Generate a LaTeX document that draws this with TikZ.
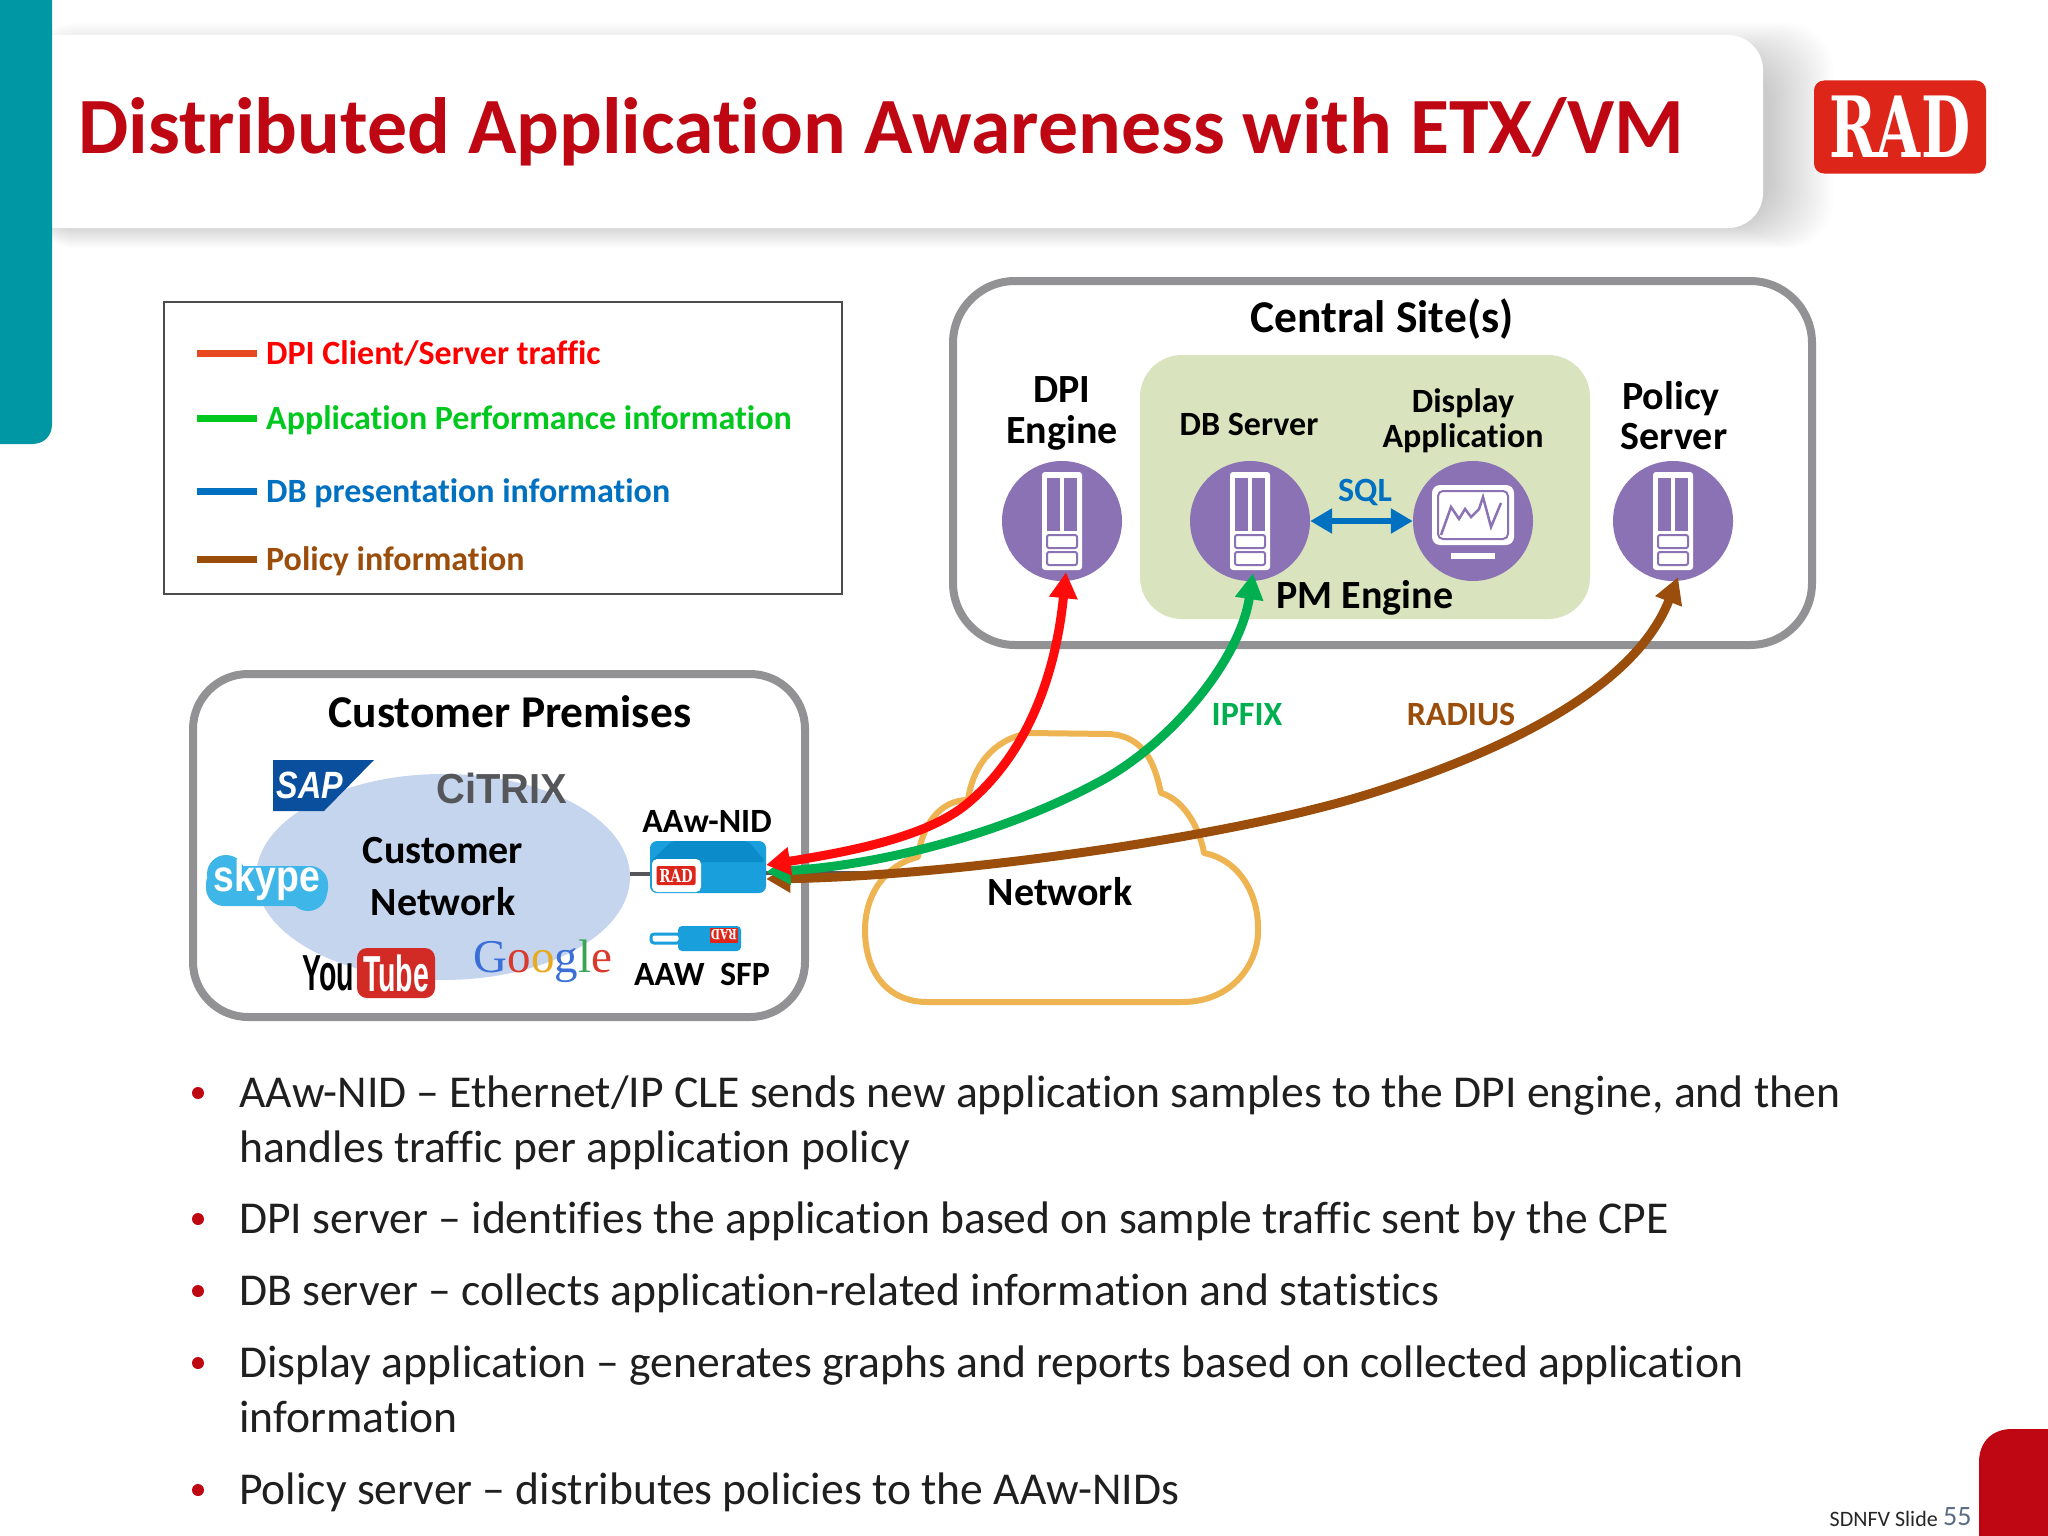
\documentclass[tikz,border=0pt]{standalone}
\usepackage{fontspec}
\usepackage{graphicx}
\setmainfont[Ligatures=NoCommon]{Carlito}
\newfontfamily\logoserif{DejaVu Serif}
\newfontfamily\timesf{Liberation Serif}
\newfontfamily\arialf{Liberation Sans}
\usetikzlibrary{arrows.meta}
\newcommand{\fsz}[1]{\fontsize{#1}{#1}\selectfont}
\definecolor{teal1}{HTML}{0097A5}
\definecolor{titlered}{HTML}{BE0712}
\definecolor{logored}{HTML}{DD2519}
\definecolor{frameg}{HTML}{929295}
\definecolor{pmgreen}{HTML}{D9E4BF}
\definecolor{purp}{HTML}{8A72B4}
\definecolor{netblue}{HTML}{C5D5EE}
\definecolor{lred}{HTML}{FE0000}
\definecolor{lorange}{HTML}{E8481F}
\definecolor{lgreen}{HTML}{00C81E}
\definecolor{lblue}{HTML}{0070C0}
\definecolor{lbrown}{HTML}{9B4E0C}
\definecolor{ared}{HTML}{FE0B0B}
\definecolor{agreen}{HTML}{00AF50}
\definecolor{cloudc}{HTML}{EFB452}
\definecolor{nidblue}{HTML}{189FDC}
\definecolor{niddark}{HTML}{0C8BCB}
\definecolor{sapblue}{HTML}{0A4F9E}
\definecolor{skypec}{HTML}{3FB6E8}
\definecolor{gblue}{HTML}{3A6FD8}
\definecolor{gred}{HTML}{D93A2B}
\definecolor{gyel}{HTML}{E8A91C}
\definecolor{ggreen}{HTML}{3AA655}
\definecolor{ytred}{HTML}{D22B26}
\definecolor{citg}{HTML}{55565A}
\definecolor{numg}{HTML}{5A6B84}
\tikzset{
  x=1pt,y=-1pt,
  heading/.style={font=\fsz{45.5}\bfseries,text=black,inner sep=0pt,anchor=mid,yshift=-13pt},
  sublabel/.style={font=\fsz{40}\bfseries,text=black,inner sep=0pt,anchor=mid,yshift=-12pt},
  smalllabel/.style={font=\fsz{34}\bfseries,text=black,inner sep=0pt,anchor=mid,yshift=-9pt},
  legtext/.style={font=\fsz{34}\bfseries,inner sep=0pt,anchor=mid west,yshift=-9pt},
  legline/.style={line width=7pt},
  sitebox/.style={draw=frameg,line width=8pt,fill=white,rounded corners=62pt},
  srv/.style={circle,fill=purp,minimum size=120pt,inner sep=0pt},
  bulletdot/.style={circle,fill=titlered,minimum size=12pt,inner sep=0pt},
  bullettext/.style={font=\fsz{45.6},text=black!88,inner sep=0pt,anchor=mid west,yshift=-13pt},
  flow/.style={line width=9pt,{Triangle[length=24pt,width=27pt]}-{Triangle[length=26pt,width=27pt]}},
}
\newcommand{\servericon}[1]{%
  \fill[white,rounded corners=3pt] ([shift={(-20,-49)}]#1.center) rectangle ([shift={(20,49)}]#1.center);
  \fill[purp] ([shift={(-15,-43)}]#1.center) rectangle ([shift={(-2,10)}]#1.center);
  \fill[purp] ([shift={(2,-43)}]#1.center) rectangle ([shift={(15,10)}]#1.center);
  \draw[purp,line width=2pt,fill=white,rounded corners=2pt] ([shift={(-15,14)}]#1.center) rectangle ([shift={(15,27)}]#1.center);
  \draw[purp,line width=2pt,fill=white,rounded corners=2pt] ([shift={(-15,31)}]#1.center) rectangle ([shift={(15,44)}]#1.center);
}
\begin{document}
\begin{tikzpicture}
\useasboundingbox (0,0) rectangle (2048,1536);
\fill[white] (0,0) rectangle (2048,1536);
% title shadow
\foreach \i in {1,...,26}{
  \fill[black,opacity=0.0085,rounded corners=46pt] (30,62-\i*1.5) rectangle (1768+\i*2.5,222+\i*1.0);
}
\fill[white,rounded corners=35pt] (20,35) rectangle (1763,228);
\fill[teal1] (0,0) -- (52,0) -- (52,424) .. controls (52,436) and (44,444) .. (32,444) -- (0,444) -- cycle;
\node[font=\fsz{79.8}\bfseries,text=titlered,inner sep=0pt,anchor=mid west,yshift=-24pt] (title) at (78,127) {Distributed Application Awareness with ETX/VM};
% logo
\node[fill=logored,rounded corners=10pt,minimum width=172pt,minimum height=93pt,inner sep=0pt,text=white] (logo) at (1900,127)
  {\scalebox{0.86}[1.28]{\logoserif\bfseries\fsz{66}RAD}};
% legend
\node[draw=black!70,line width=2.5pt,fill=white,minimum width=678pt,minimum height=292pt,inner sep=0pt] (legend) at (503,448) {};
\coordinate (l1a) at (197,353); \coordinate (l1b) at (257,353);
\coordinate (l2a) at (197,418); \coordinate (l2b) at (257,418);
\coordinate (l3a) at (197,491); \coordinate (l3b) at (257,491);
\coordinate (l4a) at (197,559); \coordinate (l4b) at (257,559);
\draw[legline,draw=lorange] (l1a) -- (l1b);
\draw[legline,draw=lgreen] (l2a) -- (l2b);
\draw[legline,draw=lblue] (l3a) -- (l3b);
\draw[legline,draw=lbrown] (l4a) -- (l4b);
\node[legtext,text=lred] (t1) at (266,353) {DPI Client/Server traffic};
\node[legtext,text=lgreen] (t2) at (266,418) {Application Performance information};
\node[legtext,text=lblue] (t3) at (266,491) {DB presentation information};
\node[legtext,text=lbrown] (t4) at (266,559) {Policy information};
% central site
\draw[sitebox] (953,281) rectangle (1812,645);
\node[heading] (central) at (1382,317) {Central Site(s)};
\fill[pmgreen,rounded corners=42pt] (1140,355) rectangle (1590,619);
\node[srv] (dpi) at (1062,521) {};
\node[srv] (db) at (1250,521) {};
\node[srv] (disp) at (1473,521) {};
\node[srv] (pol) at (1673,521) {};
\servericon{dpi}
\servericon{db}
\servericon{pol}
% monitor
\fill[white,rounded corners=8pt] ([shift={(-41,-36)}]disp.center) rectangle ([shift={(41,24)}]disp.center);
\draw[purp,line width=2pt,rounded corners=5pt] ([shift={(-35,-30)}]disp.center) rectangle ([shift={(35,18)}]disp.center);
\fill[white] ([shift={(-22,32)}]disp.center) rectangle ([shift={(22,38)}]disp.center);
\draw[purp,line width=2.5pt] ([shift={(-32,14)}]disp.center) -- ([shift={(-22,-14)}]disp.center) -- ([shift={(-14,-2)}]disp.center) -- ([shift={(-8,-12)}]disp.center) -- ([shift={(-2,-4)}]disp.center) -- ([shift={(6,-12)}]disp.center) -- ([shift={(10,-24)}]disp.center) -- ([shift={(18,6)}]disp.center) -- ([shift={(28,-18)}]disp.center);
\node[sublabel] (dpil) at (1062,388) {DPI};
\node[sublabel] (dpil2) at (1062,429) {Engine};
\node[smalllabel] (dbl) at (1249,424) {DB Server};
\node[smalllabel] (dispil) at (1463,401) {Display};
\node[smalllabel] (dispil2) at (1463,436) {Application};
\node[sublabel] (poll) at (1671,395) {Policy};
\node[sublabel] (poll2) at (1674,435) {Server};
\draw[line width=6pt,draw=lblue,{Triangle[length=22pt,width=24pt]}-{Triangle[length=22pt,width=24pt]}] (db.east) -- (disp.west);
\node[smalllabel,text=lblue] (sql) at (1365,490) {SQL};
\node[sublabel] (pm) at (1365,594) {PM Engine};
% customer premises
\draw[sitebox,rounded corners=55pt] (193,674) rectangle (805,1017);
\node[heading] (cust) at (510,712) {Customer Premises};
\fill[netblue] (443,877) ellipse (187 and 103);
\node[sublabel] (cn1) at (443,849) {Customer};
\node[sublabel] (cn2) at (443,901) {Network};
% logos
\fill[sapblue] (273,760) -- (374,760) -- (324,811) -- (273,811) -- cycle;
\node[text=white,font=\arialf\bfseries\itshape\fsz{38},inner sep=0pt] (sap) at (310,785) {\scalebox{0.85}[1]{SAP}};
\node[text=citg,font=\arialf\bfseries\fsz{42},inner sep=0pt] (citrix) at (502,788) {\scalebox{0.95}[1]{CiTRIX}};
\fill[skypec,rounded corners=18pt] (206,866) rectangle (328,906);
\fill[skypec] (226,874) circle (19);
\fill[skypec] (308,892) circle (19);
\node[text=white,font=\arialf\bfseries\fsz{44},inner sep=0pt] (skype) at (267,880) {\scalebox{0.85}[1]{skype}};
\node[text=black,font=\arialf\bfseries\fsz{46},inner sep=0pt] (you) at (328,973) {\scalebox{0.62}[1.1]{You}};
\fill[ytred,rounded corners=10pt] (357,948) rectangle (435,998);
\node[text=white,font=\arialf\bfseries\fsz{46},inner sep=0pt] (tube) at (396,973) {\scalebox{0.62}[1.1]{Tube}};
\node[font=\timesf\fsz{47},inner sep=0pt] (google) at (543,961) {\color{gblue}G\color{gred}o\color{gyel}o\color{gblue}g\color{ggreen}l\color{gred}e};
% NID
\node[smalllabel] (nidl) at (707,821) {AAw-NID};
\node[fill=nidblue,rounded corners=7pt,minimum width=116pt,minimum height=52pt,inner sep=0pt] (nid) at (708,867) {};
\fill[niddark,rounded corners=4pt] (672,841) -- (748,841) -- (766,862) -- (650,862) -- cycle;
\fill[white,rounded corners=5pt] (652,859) rectangle (701,892);
\node[fill=logored,text=white,rounded corners=2pt,minimum width=39pt,minimum height=19pt,inner sep=0pt] (radmini) at (676,875.5) {\scalebox{0.75}[1]{\logoserif\bfseries\fsz{18}RAD}};
\draw[line width=3.5pt,draw=citg] (630,874) -- ([yshift=-7pt]nid.west);
\fill[nidblue,rounded corners=4pt] (678,926) rectangle (741,951);
\draw[draw=nidblue,line width=3pt,fill=white,rounded corners=3pt] (651,934) rectangle (680,943);
\node[fill=logored,text=white,rotate=180,minimum width=28pt,minimum height=15pt,inner sep=0pt] (radsfp) at (724,935) {\scalebox{0.75}[1]{\logoserif\bfseries\fsz{14}RAD}};
\node[smalllabel] (sfpl) at (702,974) {AAW\ \ SFP};
% cloud
\draw[draw=cloudc,line width=6pt,line join=round]
  (927,1002) -- (1182,1002)
  .. controls (1235,1002) and (1260,960) .. (1258,927)
  .. controls (1258,895) and (1240,860) .. (1204,853)
  .. controls (1200,830) and (1185,800) .. (1161,793)
  .. controls (1155,765) and (1145,736) .. (1109,734)
  -- (1029,733)
  .. controls (990,740) and (972,770) .. (968,800)
  .. controls (940,800) and (922,825) .. (918,857)
  .. controls (885,865) and (865,895) .. (865,930)
  .. controls (865,975) and (890,1002) .. (927,1002);
\node[sublabel] (netl) at (1060,891) {Network};
\node[smalllabel,text=agreen] (ipfix) at (1247,714) {IPFIX};
\node[smalllabel,text=lbrown] (radius) at (1461,714) {RADIUS};
% flows
\coordinate (stub) at (876,873);
\draw[line width=4pt,draw=citg] ([shift={(0,6)}]nid.east) -- (stub);
\draw[flow,draw=lbrown] ([shift={(0,12)}]nid.east)
  .. controls (950,876) and (1230,838) .. (1372,793)
  .. controls (1470,762) and (1630,700) .. ([shift={(5,-4)}]pol.south);
\draw[flow,draw=agreen] ([shift={(0,5)}]nid.east)
  .. controls (880,865) and (1000,835) .. (1097,783)
  .. controls (1170,745) and (1240,660) .. ([shift={(3,-8)}]db.south);
\draw[flow,draw=ared] ([shift={(0,-2)}]nid.east)
  .. controls (860,850) and (930,835) .. (968,803)
  .. controls (1025,755) and (1055,680) .. ([shift={(4,-9)}]dpi.south);
% bullets
\node[bulletdot] (b1) at (198,1093) {};
\node[bullettext] (p1) at (239,1092) {AAw-NID – Ethernet/IP CLE sends new application samples to the DPI engine, and then};
\node[bullettext] (p1b) at (239,1147) {handles traffic per application policy};
\node[bulletdot] (b2) at (198,1219) {};
\node[bullettext] (p2) at (239,1218) {DPI server – identifies the application based on sample traffic sent by the CPE};
\node[bulletdot] (b3) at (198,1291) {};
\node[bullettext] (p3) at (239,1290) {DB server – collects application-related information and statistics};
\node[bulletdot] (b4) at (198,1363) {};
\node[bullettext] (p4) at (239,1362) {Display application – generates graphs and reports based on collected application};
\node[bullettext] (p4b) at (239,1417) {information};
\node[bulletdot] (b5) at (198,1490) {};
\node[bullettext] (p5) at (239,1489) {Policy server – distributes policies to the AAw-NIDs};
% footer
\fill[titlered] (2048,1429) -- (2012,1429) .. controls (1992,1429) and (1979,1442) .. (1979,1462) -- (1979,1536) -- (2048,1536) -- cycle;
\node[font=\fsz{22},inner sep=0pt,anchor=mid east,text=black!85,yshift=-4pt] (sl) at (1938,1520) {SDNFV Slide};
\node[font=\fsz{28},inner sep=0pt,anchor=mid west,text=numg,yshift=-4pt] (sn) at (1943,1519) {55};
\end{tikzpicture}
\end{document}
